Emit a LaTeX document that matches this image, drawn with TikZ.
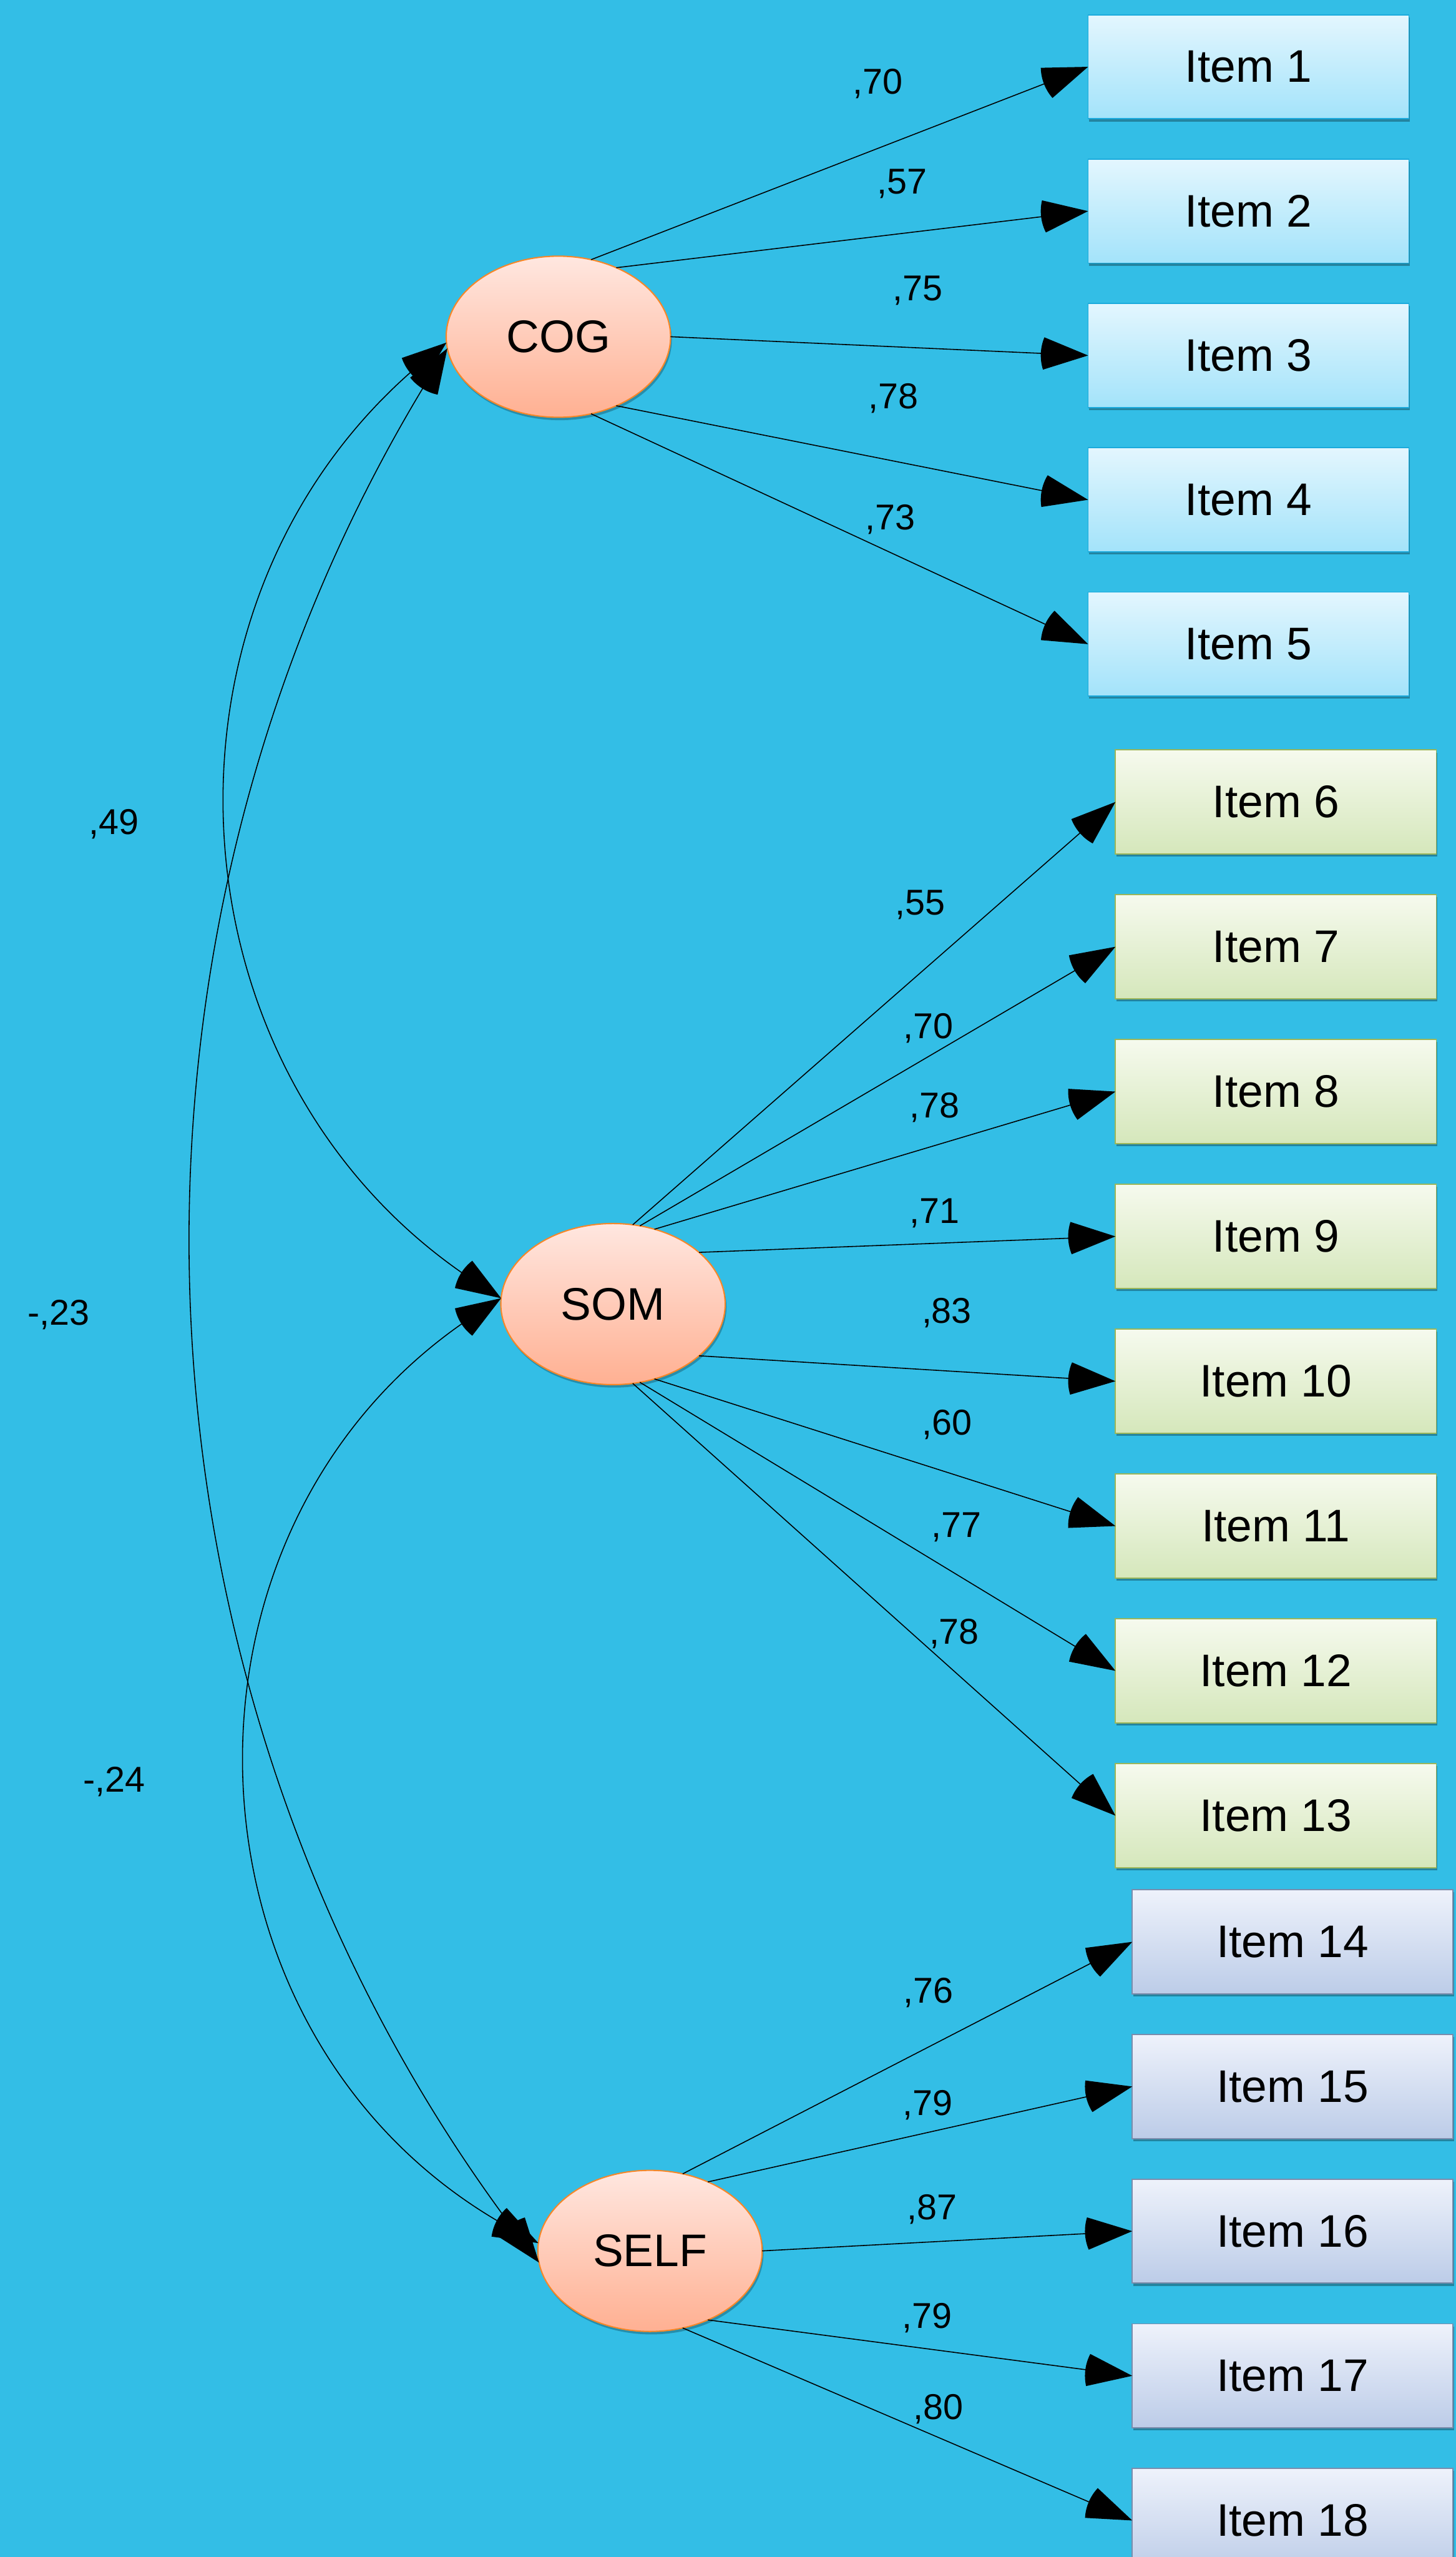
\documentclass[tikz,border=0pt]{standalone}
\usepackage{fontspec}
\setmainfont{Liberation Sans}
\usetikzlibrary{arrows.meta,shapes.geometric,shadows}

\definecolor{bg}{RGB}{51,190,230}
\definecolor{aTop}{RGB}{227,246,254}
\definecolor{aBot}{RGB}{163,227,250}
\definecolor{aBrd}{RGB}{27,170,220}
\definecolor{gTop}{RGB}{246,250,238}
\definecolor{gBot}{RGB}{213,231,187}
\definecolor{gBrd}{RGB}{155,182,90}
\definecolor{pTop}{RGB}{238,242,251}
\definecolor{pBot}{RGB}{188,204,232}
\definecolor{pBrd}{RGB}{122,140,172}
\definecolor{eTop}{RGB}{255,231,224}
\definecolor{eBot}{RGB}{255,176,146}
\definecolor{eBrd}{RGB}{247,135,40}

\pgfdeclarearrow{
  name = Sector,
  parameters = {\the\pgfarrowlength},
  setup code = {
    \pgfarrowssettipend{0pt}
    \pgfarrowssetlineend{-0.5\pgfarrowlength}
    \pgfarrowssetbackend{-\pgfarrowlength}
    \pgfarrowssavethe\pgfarrowlength
  },
  drawing code = {
    \pgfpathmoveto{\pgfpointorigin}
    \pgfpathlineto{\pgfpointpolar{160}{\pgfarrowlength}}
    \pgfpatharc{160}{200}{\pgfarrowlength}
    \pgfpathclose
    \pgfusepathqfill
  },
  defaults = {length = 14.5pt}
}

\begin{document}
\begin{tikzpicture}[x=0.5pt,y=0.5pt,
  latent/.style={ellipse, minimum width=68.8pt, minimum height=49.4pt,
    inner sep=0pt, outer sep=0pt, draw=eBrd, line width=0.4pt,
    top color=eTop, bottom color=eBot, font=\fontsize{14}{16}\selectfont,
    drop shadow={shadow xshift=0.4pt, shadow yshift=-0.9pt, opacity=0.25, fill=black}},
  box/.style={rectangle, minimum width=98.4pt, minimum height=31.9pt,
    inner sep=0pt, outer sep=0pt, line width=0.35pt,
    font=\fontsize{14}{16}\selectfont,
    drop shadow={shadow xshift=0.3pt, shadow yshift=-0.8pt, opacity=0.3, fill=black}},
  boxA/.style={box, draw=aBrd, top color=aTop, bottom color=aBot},
  boxG/.style={box, draw=gBrd, top color=gTop, bottom color=gBot},
  boxP/.style={box, draw=pBrd, top color=pTop, bottom color=pBot},
  load/.style={draw=black, line width=0.3pt, -{Sector}},
  cov/.style={draw=black, line width=0.3pt, {Sector}-{Sector}},
  lab/.style={font=\fontsize{11}{13}\selectfont, inner sep=0pt, text depth=0pt}
]
\path[use as bounding box, clip] (0,0) rectangle (893,1568);
\fill[bg] (0,0) rectangle (893,1568);

% latent variables
\node[latent] (COG)  at (342.5,1361.5) {COG};
\node[latent] (SOM)  at (376,768.3)    {SOM};
\node[latent] (SELF) at (398.7,187.7)  {SELF};

% observed items
\node[boxA] (i1) at (765.8,1527)   {Item 1};
\node[boxA] (i2) at (765.8,1438.5) {Item 2};
\node[boxA] (i3) at (765.8,1350)   {Item 3};
\node[boxA] (i4) at (765.8,1261.5) {Item 4};
\node[boxA] (i5) at (765.8,1173)   {Item 5};

\node[boxG] (i6)  at (782.6,1076.2) {Item 6};
\node[boxG] (i7)  at (782.6,987.4)  {Item 7};
\node[boxG] (i8)  at (782.6,898.6)  {Item 8};
\node[boxG] (i9)  at (782.6,809.8)  {Item 9};
\node[boxG] (i10) at (782.6,721)    {Item 10};
\node[boxG] (i11) at (782.6,632.2)  {Item 11};
\node[boxG] (i12) at (782.6,543.4)  {Item 12};
\node[boxG] (i13) at (782.6,454.6)  {Item 13};

\node[boxP] (i14) at (792.9,377.2) {Item 14};
\node[boxP] (i15) at (792.9,288.5) {Item 15};
\node[boxP] (i16) at (792.9,199.8) {Item 16};
\node[boxP] (i17) at (792.9,111.1) {Item 17};
\node[boxP] (i18) at (792.9,22.4)  {Item 18};

% loadings
\draw[load] (COG.67)  -- (i1.west);
\draw[load] (COG.50)  -- (i2.west);
\draw[load] (COG.0)   -- (i3.west);
\draw[load] (COG.-50) -- (i4.west);
\draw[load] (COG.-67) -- (i5.west);

\draw[load] (SOM.76.5)  -- (i6.west);
\draw[load] (SOM.71.5)  -- (i7.west);
\draw[load] (SOM.61)    -- (i8.west);
\draw[load] (SOM.31.5)  -- (i9.west);
\draw[load] (SOM.-31)   -- (i10.west);
\draw[load] (SOM.-61)   -- (i11.west);
\draw[load] (SOM.-71.5) -- (i12.west);
\draw[load] (SOM.-76.5) -- (i13.west);

\draw[load] (SELF.67)  -- (i14.west);
\draw[load] (SELF.50)  -- (i15.west);
\draw[load] (SELF.0)   -- (i16.west);
\draw[load] (SELF.-50) -- (i17.west);
\draw[load] (SELF.-67) -- (i18.west);

% covariances
\draw[cov] (COG.183) to[out=219, in=147.6, distance=123.6pt] (SOM.177);
\draw[cov] (COG.186) to[out=238.1, in=127.5, distance=215pt] (SELF.186);
\draw[cov] (SOM.177) to[out=212.4, in=152.1, distance=128.6pt] (SELF.176);

% loading labels
\node[lab] (l1)  at (538.4,1518.2) {,70};
\node[lab] (l2)  at (553.4,1456.7) {,57};
\node[lab] (l3)  at (562.8,1391.1) {,75};
\node[lab] (l4)  at (548,1325)     {,78};
\node[lab] (l5)  at (546,1251)     {,73};
\node[lab] (l6)  at (564.4,1014.6) {,55};
\node[lab] (l7)  at (569.5,938.7)  {,70};
\node[lab] (l8)  at (573.3,890.4)  {,78};
\node[lab] (l9)  at (573.2,825.4)  {,71};
\node[lab] (l10) at (580.7,764.2)  {,83};
\node[lab] (l11) at (581,695.9)    {,60};
\node[lab] (l12) at (586.6,633)    {,77};
\node[lab] (l13) at (585.3,567.7)  {,78};
\node[lab] (l14) at (569.4,347.4)  {,76};
\node[lab] (l15) at (569.1,278.7)  {,79};
\node[lab] (l16) at (571.6,214.5)  {,87};
\node[lab] (l17) at (568.5,147.9)  {,79};
\node[lab] (l18) at (575.5,92.1)   {,80};

% covariance labels
\node[lab] (c1) at (70,1064) {,49};
\node[lab] (c2) at (36,763)  {-,23};
\node[lab] (c3) at (70,477)  {-,24};
\end{tikzpicture}
\end{document}
